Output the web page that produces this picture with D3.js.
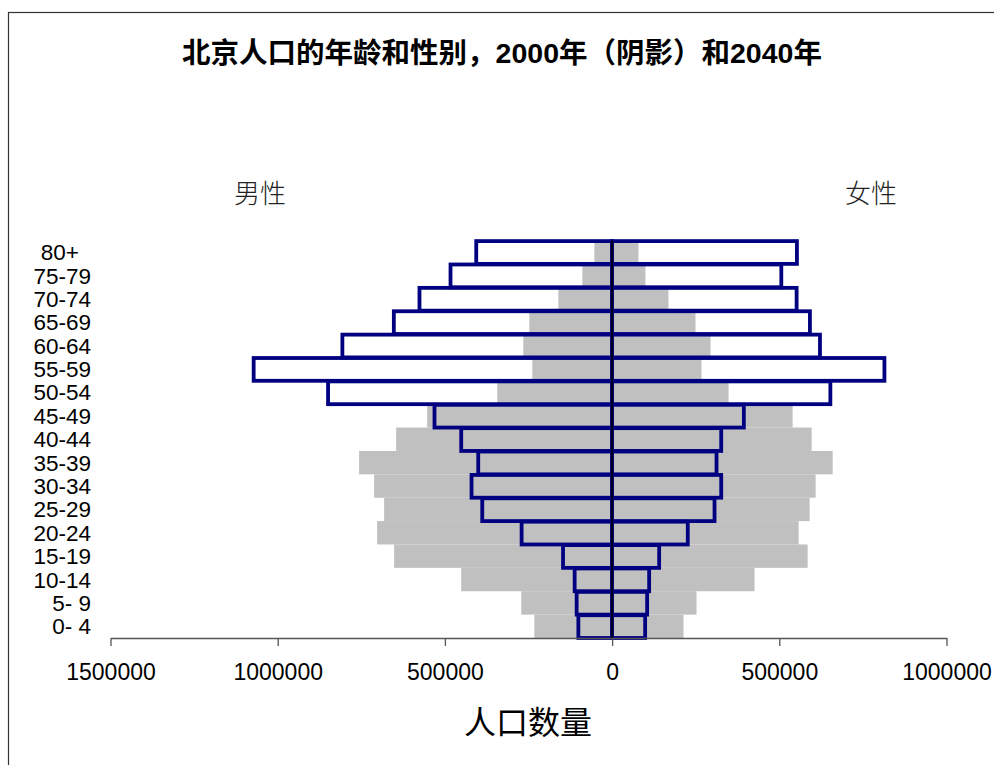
<!DOCTYPE html>
<html>
<head>
<meta charset="utf-8">
<script src="https://cdn.jsdelivr.net/npm/d3@7"></script>
<style>
  html, body { margin: 0; padding: 0; background: #fff; }
  svg { display: block; }
</style>
</head>
<body>
<svg id="chart" width="994" height="765"></svg>
<script>
// ---- data ----
const ageGroups = ["0- 4","5- 9","10-14","15-19","20-24","25-29","30-34","35-39","40-44","45-49","50-54","55-59","60-64","65-69","70-74","75-79","80+"];
const male2000   = [232600, 271600, 451200, 651800, 702700, 681700, 711700, 756600, 645800, 553000, 343400, 238600, 265600, 247600, 160800, 88900, 53000];
const female2000 = [213500, 252400, 426000, 584700, 557800, 590700, 608700, 659600, 596700, 539800, 348200, 267400, 294300, 249400, 168600, 99700, 78700];
const male2040   = [100900, 106000, 112000, 146700, 270600, 388300, 420300, 400300, 451200, 531100, 849400, 1071900, 806600, 652700, 576000, 483200, 406300];
const female2040 = [98800, 104800, 110800, 140700, 226300, 306300, 326300, 312300, 326300, 394000, 652700, 814400, 621600, 591600, 551800, 506000, 552700];
const xTicks = [-1500000, -1000000, -500000, 0, 500000, 1000000];
const titleText = "北京人口的年龄和性别，2000年（阴影）和2040年";
const maleLabel = "男性";
const femaleLabel = "女性";
const xAxisTitle = "人口数量";

// ---- layout ----
const svg = d3.select("#chart");
const plotLeft = 110.5, plotRight = 946.5, plotTop = 240.5, plotBottom = 638;

const x = d3.scaleLinear().domain([-1500000, 1000000]).range([plotLeft, plotRight]);
const y = d3.scaleBand().domain(ageGroups).range([plotBottom, plotTop]).paddingInner(0).paddingOuter(0);

// frame
svg.append("rect").attr("x", 8.5).attr("y", 12.5).attr("width", 1000).attr("height", 800)
  .attr("fill", "none").attr("stroke", "#333").attr("stroke-width", 1.2);

// title
svg.append("text").attr("x", 502).attr("y", 63).attr("text-anchor", "middle")
  .attr("font-family", "'Liberation Sans', Arial, 'Noto Sans CJK SC', sans-serif")
  .attr("font-weight", "bold").attr("font-size", 28.5).attr("fill", "#000").text(titleText);

// sex labels
svg.append("text").attr("x", 260).attr("y", 203).attr("text-anchor", "middle")
  .attr("font-family", "'Noto Sans CJK SC', sans-serif").attr("font-weight", 300)
  .attr("font-size", 26).attr("fill", "#222").text(maleLabel);
svg.append("text").attr("x", 871).attr("y", 203).attr("text-anchor", "middle")
  .attr("font-family", "'Noto Sans CJK SC', sans-serif").attr("font-weight", 300)
  .attr("font-size", 26).attr("fill", "#222").text(femaleLabel);

// 2000 shaded bars
const g2000 = svg.append("g");
g2000.selectAll("rect.m").data(ageGroups).join("rect").attr("class", "m")
  .attr("x", (d, i) => x(-male2000[i])).attr("width", (d, i) => x(0) - x(-male2000[i]))
  .attr("y", d => y(d)).attr("height", y.bandwidth()).attr("fill", "#C0C0C0");
g2000.selectAll("rect.f").data(ageGroups).join("rect").attr("class", "f")
  .attr("x", x(0)).attr("width", (d, i) => x(female2000[i]) - x(0))
  .attr("y", d => y(d)).attr("height", y.bandwidth()).attr("fill", "#C0C0C0");

// 2040 outlined bars
const g2040 = svg.append("g");
g2040.selectAll("rect.m").data(ageGroups).join("rect").attr("class", "m")
  .attr("x", (d, i) => x(-male2040[i])).attr("width", (d, i) => x(0) - x(-male2040[i]))
  .attr("y", d => y(d) + 0.6).attr("height", y.bandwidth() - 0.6)
  .attr("fill", "none").attr("stroke", "#000080").attr("stroke-width", 3.8);
g2040.selectAll("rect.f").data(ageGroups).join("rect").attr("class", "f")
  .attr("x", x(0)).attr("width", (d, i) => x(female2040[i]) - x(0))
  .attr("y", d => y(d) + 0.6).attr("height", y.bandwidth() - 0.6)
  .attr("fill", "none").attr("stroke", "#000080").attr("stroke-width", 3.8);

// center line
svg.append("line").attr("x1", x(0)).attr("x2", x(0)).attr("y1", plotTop).attr("y2", plotBottom)
  .attr("stroke", "#000").attr("stroke-width", 1.6);

// category labels
svg.append("g").selectAll("text").data(ageGroups).join("text")
  .attr("x", d => d === "80+" ? 79 : 91)
  .attr("y", d => y(d) + y.bandwidth() / 2 + 8)
  .attr("text-anchor", "end")
  .attr("font-family", "'Liberation Sans', Arial, sans-serif").attr("font-size", 22.5)
  .attr("fill", "#000").text(d => d);

// x axis
const xAxis = d3.axisBottom(x).tickValues(xTicks).tickSize(8).tickSizeOuter(0)
  .tickFormat(d => String(Math.abs(d)));
const ax = svg.append("g").attr("transform", `translate(0,${plotBottom})`).call(xAxis);
ax.select(".domain").attr("stroke", "#555").attr("stroke-width", 1.3);
ax.selectAll(".tick line").attr("stroke", "#555").attr("stroke-width", 1.3);
ax.selectAll(".tick text").attr("font-family", "'Liberation Sans', Arial, sans-serif")
  .attr("font-size", 23).attr("fill", "#000").attr("dy", 0).attr("y", 42);

// x axis title
svg.append("text").attr("x", 528).attr("y", 734).attr("text-anchor", "middle")
  .attr("font-family", "'Noto Sans CJK SC', sans-serif").attr("font-weight", 400)
  .attr("font-size", 32).attr("fill", "#000").text(xAxisTitle);
</script>
</body>
</html>
